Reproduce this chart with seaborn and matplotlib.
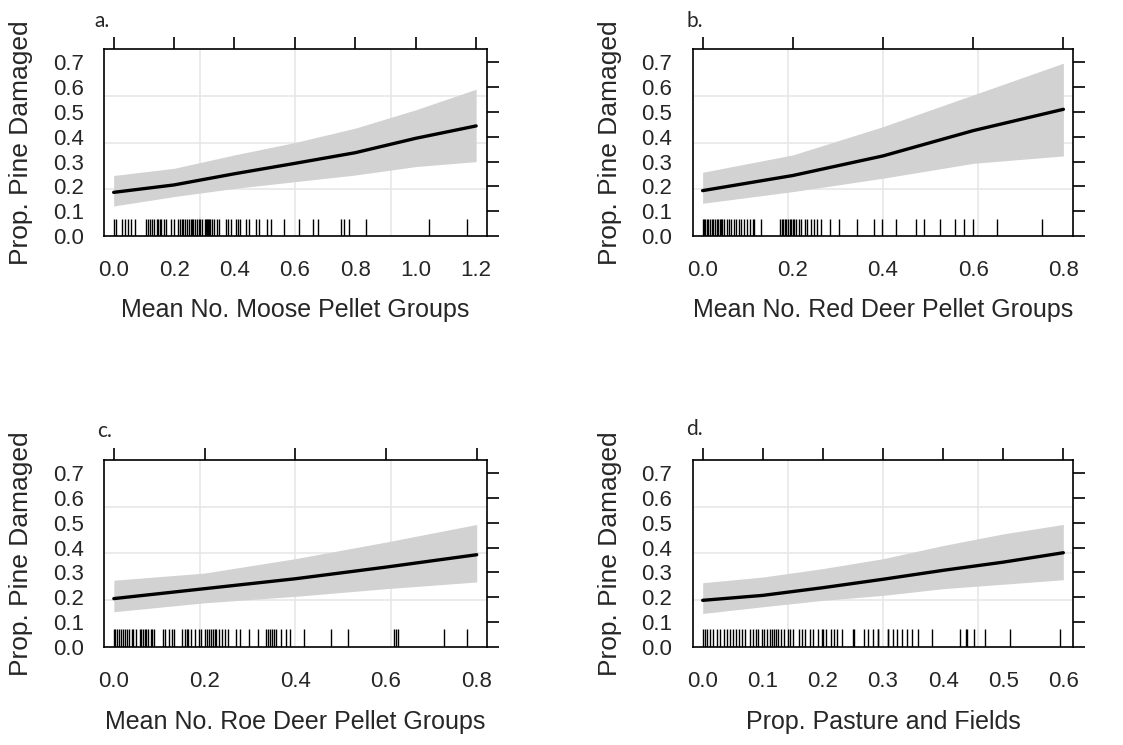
import numpy as np
import pandas as pd
import matplotlib
matplotlib.use("Agg")
import matplotlib.pyplot as plt
import seaborn as sns

# ---------------- data ----------------
# panel a: moose
a_x = [0.0, 0.2, 0.4, 0.6, 0.8, 1.0, 1.2]
a_fit = [0.176, 0.206, 0.251, 0.293, 0.336, 0.394, 0.444]
a_upper = [0.244, 0.273, 0.327, 0.377, 0.435, 0.509, 0.592]
a_lower = [0.121, 0.159, 0.192, 0.219, 0.246, 0.280, 0.300]
a_rug = [0.000, 0.008, 0.029, 0.036, 0.046, 0.057, 0.069, 0.108, 0.114, 0.119,
         0.127, 0.134, 0.142, 0.148, 0.152, 0.158, 0.166, 0.173, 0.189, 0.201,
         0.212, 0.220, 0.225, 0.230, 0.235, 0.243, 0.251, 0.255, 0.259, 0.263,
         0.268, 0.276, 0.282, 0.287, 0.294, 0.301, 0.305, 0.308, 0.311, 0.315,
         0.318, 0.325, 0.333, 0.341, 0.348, 0.372, 0.379, 0.387, 0.406, 0.413,
         0.418, 0.439, 0.449, 0.470, 0.480, 0.506, 0.521, 0.563, 0.612, 0.659,
         0.678, 0.754, 0.761, 0.779, 0.834, 1.045, 1.169]

# panel b: red deer
b_x = [0.0, 0.2, 0.4, 0.6, 0.8]
b_fit = [0.183, 0.244, 0.323, 0.425, 0.511]
b_upper = [0.257, 0.327, 0.441, 0.569, 0.697]
b_lower = [0.132, 0.179, 0.233, 0.293, 0.323]
b_rug = [0.000, 0.003, 0.006, 0.010, 0.013, 0.017, 0.020, 0.024, 0.027, 0.031,
         0.034, 0.038, 0.041, 0.044, 0.048, 0.053, 0.058, 0.063, 0.070, 0.075,
         0.080, 0.085, 0.092, 0.099, 0.106, 0.111, 0.114, 0.130, 0.172, 0.176,
         0.179, 0.183, 0.186, 0.189, 0.193, 0.196, 0.200, 0.203, 0.206, 0.213,
         0.219, 0.226, 0.232, 0.241, 0.248, 0.254, 0.263, 0.282, 0.302, 0.342,
         0.381, 0.398, 0.429, 0.473, 0.490, 0.526, 0.560, 0.580, 0.600, 0.652,
         0.752]

# panel c: roe deer
c_x = [0.0, 0.2, 0.4, 0.6, 0.8]
c_fit = [0.194, 0.234, 0.274, 0.321, 0.371]
c_upper = [0.268, 0.297, 0.355, 0.422, 0.493]
c_lower = [0.141, 0.177, 0.203, 0.234, 0.261]
c_rug = [0.000, 0.003, 0.007, 0.012, 0.016, 0.020, 0.025, 0.030, 0.034, 0.039,
         0.043, 0.048, 0.058, 0.061, 0.065, 0.068, 0.072, 0.075, 0.081, 0.085,
         0.089, 0.108, 0.113, 0.122, 0.128, 0.133, 0.150, 0.156, 0.161, 0.164,
         0.171, 0.178, 0.188, 0.193, 0.200, 0.205, 0.210, 0.215, 0.219, 0.222,
         0.225, 0.232, 0.238, 0.246, 0.251, 0.270, 0.279, 0.297, 0.318, 0.336,
         0.340, 0.345, 0.348, 0.354, 0.357, 0.369, 0.379, 0.388, 0.420, 0.478,
         0.516, 0.618, 0.622, 0.627, 0.728, 0.778]

# panel d: pasture and fields
d_x = [0.0, 0.1, 0.2, 0.3, 0.4, 0.5, 0.6]
d_fit = [0.187, 0.207, 0.238, 0.272, 0.308, 0.341, 0.379]
d_upper = [0.258, 0.281, 0.315, 0.355, 0.408, 0.455, 0.493]
d_lower = [0.134, 0.161, 0.187, 0.207, 0.234, 0.252, 0.270]
d_rug = [0.000, 0.004, 0.008, 0.013, 0.018, 0.023, 0.028, 0.035, 0.040, 0.045,
         0.050, 0.056, 0.061, 0.066, 0.070, 0.079, 0.084, 0.088, 0.092, 0.098,
         0.102, 0.107, 0.112, 0.116, 0.119, 0.122, 0.125, 0.130, 0.135, 0.142,
         0.145, 0.150, 0.161, 0.166, 0.171, 0.178, 0.184, 0.192, 0.198, 0.201,
         0.206, 0.213, 0.219, 0.224, 0.231, 0.250, 0.252, 0.268, 0.275, 0.283,
         0.291, 0.292, 0.308, 0.309, 0.316, 0.323, 0.331, 0.340, 0.349, 0.359,
         0.382, 0.428, 0.438, 0.440, 0.452, 0.469, 0.511, 0.594]

panel_letters = ["a.", "b.", "c.", "d."]
x_labels = ["Mean No. Moose Pellet Groups", "Mean No. Red Deer Pellet Groups",
            "Mean No. Roe Deer Pellet Groups", "Prop. Pasture and Fields"]
y_label = "Prop. Pine Damaged"
y_ticks = [0.0, 0.1, 0.2, 0.3, 0.4, 0.5, 0.6, 0.7]
x_ticks_list = [[0.0, 0.2, 0.4, 0.6, 0.8, 1.0, 1.2],
                [0.0, 0.2, 0.4, 0.6, 0.8],
                [0.0, 0.2, 0.4, 0.6, 0.8],
                [0.0, 0.1, 0.2, 0.3, 0.4, 0.5, 0.6]]

# ---------------- style ----------------
sns.set_style("white")
plt.rcParams["font.family"] = ["Liberation Sans", "DejaVu Sans"]

W, H = 1123, 745
fig = plt.figure(figsize=(W / 100, H / 100), dpi=100)

# axes boxes in pixels: left, right, top, bottom
boxes = [(104.3, 486.7, 49.3, 236.0),
         (692.7, 1073.3, 49.3, 236.0),
         (104.3, 486.7, 460.0, 646.7),
         (692.7, 1073.3, 460.0, 646.7)]
xlims = [(-0.031, 1.235), (-0.022, 0.822), (-0.021, 0.822), (-0.0166, 0.6166)]
ylim = (0.0, 0.753)
letter_pos = [(94, 27), (686.5, 27), (97, 437), (686, 435)]
xlabel_y = [-0.33, -0.33, -0.34, -0.34]

panels = [(a_x, a_fit, a_upper, a_lower, a_rug),
          (b_x, b_fit, b_upper, b_lower, b_rug),
          (c_x, c_fit, c_upper, c_lower, c_rug),
          (d_x, d_fit, d_upper, d_lower, d_rug)]

band_color = "#d2d2d2"
grid_color = "#e6e6e6"
text_color = "#262626"

for i, (px, pfit, pup, plo, prug) in enumerate(panels):
    l, r, t, b = boxes[i]
    ax = fig.add_axes([l / W, 1 - b / H, (r - l) / W, (b - t) / H])
    ax.set_xlim(*xlims[i])
    ax.set_ylim(*ylim)

    # light grid at quarter positions of the panel
    x0, x1 = xlims[i]
    for f in (0.25, 0.5, 0.75):
        ax.axvline(x0 + f * (x1 - x0), color=grid_color, lw=1.1, zorder=0)
        ax.axhline(ylim[0] + f * (ylim[1] - ylim[0]), color=grid_color, lw=1.1, zorder=0)

    ax.fill_between(px, plo, pup, color=band_color, lw=0, zorder=1)
    df = pd.DataFrame({"x": px, "y": pfit})
    sns.lineplot(data=df, x="x", y="y", ax=ax, color="black", lw=2.4, zorder=3)
    sns.rugplot(x=prug, ax=ax, height=0.07 / 0.753, color="black", lw=0.9,
                expand_margins=False, zorder=2)
    ax.set_xlim(*xlims[i])
    ax.set_ylim(*ylim)

    ax.set_xticks(x_ticks_list[i])
    ax.set_xticklabels([f"{v:.1f}" for v in x_ticks_list[i]])
    ax.set_yticks(y_ticks)
    ax.set_yticklabels([f"{v:.1f}" for v in y_ticks])
    ax.tick_params(direction="out", length=8.6, width=1.2, colors="black",
                   labelcolor=text_color,
                   top=True, right=True, labeltop=False, labelright=False,
                   labelsize=16, pad=6)
    ax.tick_params(axis="x", pad=9)
    for s in ax.spines.values():
        s.set_color("black")
        s.set_linewidth(1.2)
        s.set_visible(True)

    ax.set_xlabel(x_labels[i], fontsize=18, color=text_color)
    ax.set_ylabel(y_label, fontsize=19, color=text_color)
    ax.xaxis.set_label_coords(0.5, xlabel_y[i])
    ax.yaxis.set_label_coords(-0.186, 0.5)

    lx, ly = letter_pos[i]
    fig.text(lx / W, 1 - ly / H, panel_letters[i], fontsize=15,
             ha="left", va="baseline", family=["Lato", "DejaVu Sans"])

fig.savefig("out.png", dpi=100, facecolor="white")
